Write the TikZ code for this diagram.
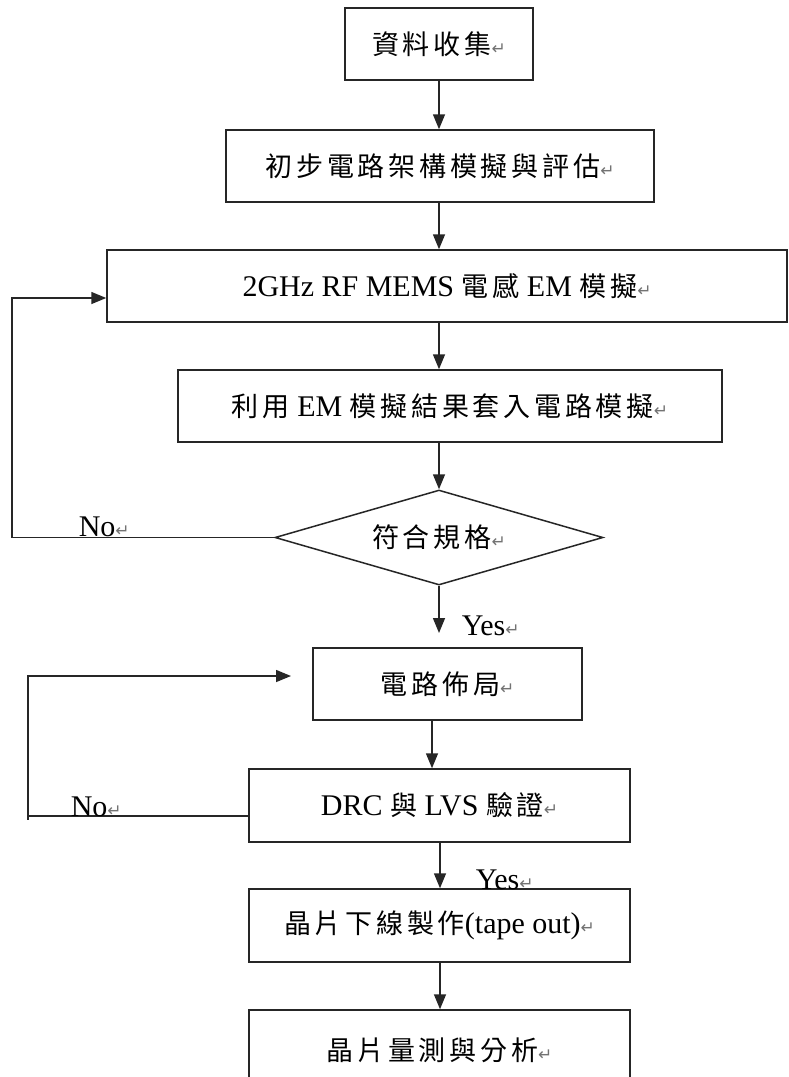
\documentclass[tikz,border=0pt]{standalone}
\usepackage{fontspec}
\setmainfont{Liberation Serif}
\newfontfamily\cjk{Noto Sans CJK TC}[LetterSpace=14]
\newfontfamily\symf{DejaVu Sans}
\usetikzlibrary{arrows.meta,shapes.geometric}
\newcommand\zhtxt[1]{{\cjk\fontsize{27}{30}\selectfont #1}}
\newcommand\retmark{{\symf\fontsize{17}{17}\selectfont\color{black!55}↵}}
\begin{document}
\begin{tikzpicture}[x=1pt,y=-1pt,
  line width=1.5pt,
  every node/.style={font=\fontsize{30}{34}\selectfont, inner sep=0pt},
  proc/.style={draw=black!85, rectangle, line width=1.5pt},
  deci/.style={draw=black!85, diamond, shape aspect=3.45, line width=1.5pt},
  arr/.style={draw=black!85, -{Triangle[length=15pt,width=12pt]}},
  lin/.style={draw=black!85},
  lbl/.style={font=\fontsize{30}{34}\selectfont}]
\useasboundingbox (0,0) rectangle (789,1077);
\fill[white] (0,0) rectangle (789,1077);

\node[proc, minimum width=188pt, minimum height=72pt] (b1) at (439,44) {\zhtxt{資料收集}\retmark};
\node[proc, minimum width=428pt, minimum height=72pt] (b2) at (440,166) {\zhtxt{初步電路架構模擬與評估}\retmark};
\node[proc, minimum width=680pt, minimum height=72pt] (b3) at (447,286) {2GHz RF MEMS \zhtxt{電感} EM \zhtxt{模擬}\retmark};
\node[proc, minimum width=544pt, minimum height=72pt] (b4) at (450,406) {\zhtxt{利用} EM \zhtxt{模擬結果套入電路模擬}\retmark};
\node[deci, minimum width=328pt, minimum height=95pt] (d) at (439,537.5) {\zhtxt{符合規格}\retmark};
\node[proc, minimum width=269pt, minimum height=72pt] (b5) at (447.5,684) {\zhtxt{電路佈局}\retmark};
\node[proc, minimum width=381pt, minimum height=73pt] (b6) at (439.5,805.5) {DRC \zhtxt{與} LVS \zhtxt{驗證}\retmark};
\node[proc, minimum width=381pt, minimum height=73pt] (b7) at (439.5,925.5) {\zhtxt{晶片下線製作}(tape out)\retmark};
\node[proc, minimum width=381pt, minimum height=80pt] (b8) at (439.5,1050) {\zhtxt{晶片量測與分析}\retmark};

\draw[arr] (b1.south) -- (b1.south |- b2.north);
\draw[arr] (b2.south -| b1.south) -- (b1.south |- b3.north);
\draw[arr] (b3.south -| b1.south) -- (b1.south |- b4.north);
\draw[arr] (b4.south -| b1.south) -- (b1.south |- d.north);

\coordinate (yesend) at (439,633);
\draw[arr] (d.south) -- (yesend);
\node[lbl, anchor=west] (yes1) at (461,626) {Yes\retmark};

\coordinate (l1) at (12,537.5);
\draw[arr] (d.west) -- (l1) |- ([yshift=-12pt]b3.west);
\node[lbl, anchor=west] (no1) at (78,527) {No\retmark};

\draw[arr] (b5.south -| 432,0) -- (b6.north -| 432,0);
\coordinate (l2) at (28,816);
\coordinate (l2end) at (291,676);
\draw[arr] ([yshift=-10.5pt]b6.west) -- (l2) |- (l2end);
\draw[lin] (l2) -- ++(0,4);
\node[lbl, anchor=west] (no2) at (70,807) {No\retmark};

\draw[arr] (b6.south -| 440,0) -- (b7.north -| 440,0);
\node[lbl, anchor=west] (yes2) at (475,880) {Yes\retmark};
\draw[arr] (b7.south -| 440,0) -- (b8.north -| 440,0);
\end{tikzpicture}
\end{document}
